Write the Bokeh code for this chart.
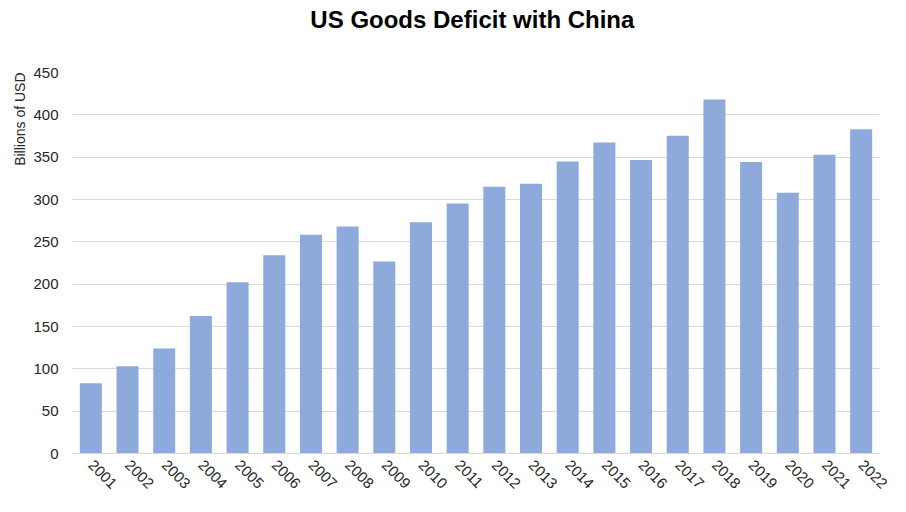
import math
from bokeh.plotting import figure
from bokeh.layouts import column
from bokeh.models import Range1d, Title, FixedTicker
from bokeh.core.properties import value
from bokeh.embed import file_html
from bokeh.resources import INLINE

years = [str(y) for y in range(2001, 2023)]
deficit = [83.1, 103.1, 124.1, 162.3, 202.3, 234.1, 258.5, 268.0, 226.9, 273.0, 295.2,
           315.1, 318.7, 344.8, 367.3, 346.8, 375.2, 418.2, 344.3, 308.0, 352.8, 382.9]
y_ticks = [0, 50, 100, 150, 200, 250, 300, 350, 400, 450]
title_text = "US Goods Deficit with China"

FONT = "Liberation Sans"
W = 890
TH = 56

# title strip
t = figure(width=W, height=TH, x_range=Range1d(0, W), y_range=Range1d(0, TH),
           output_backend="svg", toolbar_location=None,
           min_border_left=0, min_border_right=0, min_border_top=0, min_border_bottom=0)
t.axis.visible = False
t.grid.visible = False
t.outline_line_color = None
t.text(x=[441], y=[37], text=[title_text], text_align="center", text_baseline="middle",
       text_font=value(FONT), text_font_size="24px", text_font_style="bold",
       text_color="#000000")

p = figure(x_range=years, y_range=Range1d(0, 450), width=W, height=496 - TH,
           output_backend="svg", toolbar_location=None,
           min_border_left=72, min_border_right=11, min_border_top=16, min_border_bottom=0)

p.vbar(x=years, top=deficit, width=0.6, color="#8eaadb", line_color=None)

ylab = Title(text="Billions of USD", align="right", text_font=FONT, text_font_size="14px",
             text_font_style="normal", text_color="#262626", standoff=6)
p.add_layout(ylab, "left")

p.yaxis.ticker = FixedTicker(ticks=y_ticks)
p.yaxis.axis_line_color = None
p.yaxis.major_tick_line_color = None
p.yaxis.major_tick_out = 0
p.yaxis.major_tick_in = 0
p.yaxis.minor_tick_line_color = None
p.yaxis.major_label_text_font = FONT
p.yaxis.major_label_text_font_size = "15px"
p.yaxis.major_label_text_color = "#262626"
p.yaxis.major_label_standoff = 14

p.xaxis.axis_line_color = "#d9d9d9"
p.xaxis.major_tick_line_color = None
p.xaxis.minor_tick_line_color = None
p.xaxis.major_label_orientation = -math.pi / 4
p.xaxis.major_label_text_font = FONT
p.xaxis.major_label_text_font_size = "15px"
p.xaxis.major_label_text_color = "#262626"
p.xaxis.major_label_standoff = 3

p.xgrid.grid_line_color = None
p.ygrid.grid_line_color = "#d9d9d9"
p.ygrid.grid_line_width = 1
p.outline_line_color = None
p.background_fill_color = "white"

layout = column(t, p, spacing=0)
open("out.html", "w").write(file_html(layout, INLINE))
